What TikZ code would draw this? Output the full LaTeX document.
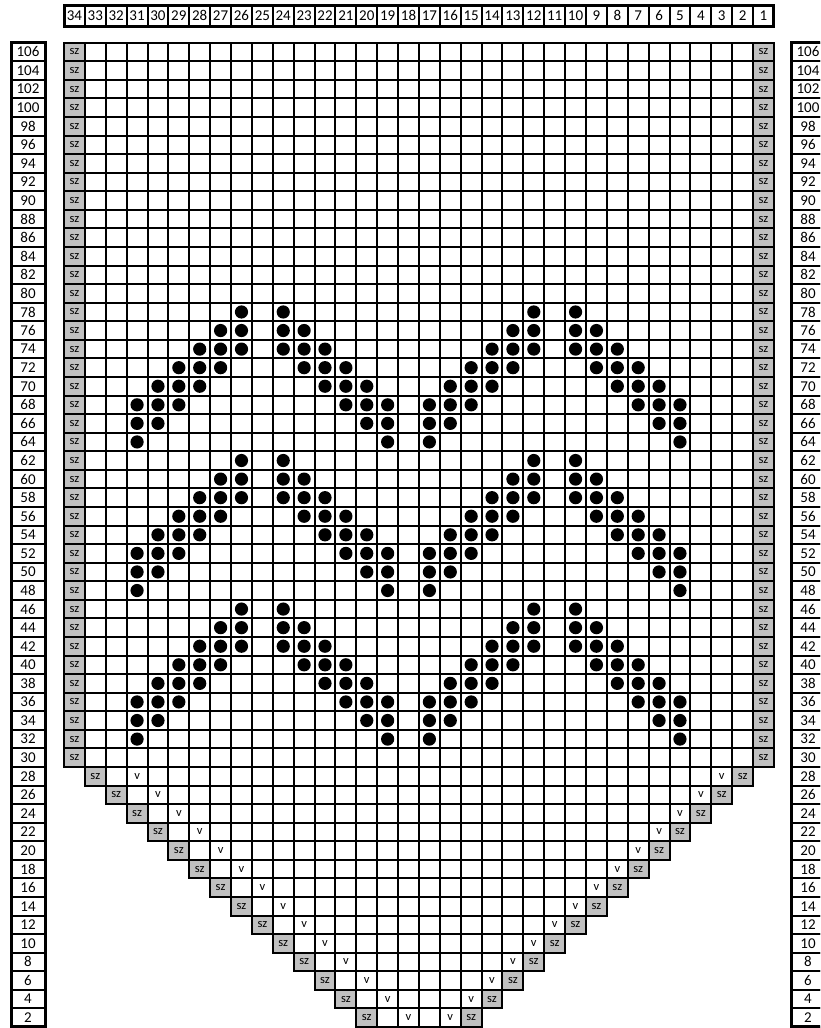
\documentclass[tikz,border=0pt]{standalone}
\usepackage{fontspec}
\setmainfont{Carlito}
\definecolor{szgray}{RGB}{192,192,192}
\begin{document}
\begin{tikzpicture}[x=1pt,y=-1pt,
  cellbox/.style={draw=black,line width=2pt},
  szbox/.style={draw=black,line width=2pt,fill=szgray},
  outerbox/.style={draw=black,line width=3pt},
  numtxt/.style={font=\fontsize{15}{16}\selectfont,inner sep=0pt},
  smalltxt/.style={font=\fontsize{12.5}{13}\selectfont,inner sep=0pt},
  dot/.style={fill=black}]
\useasboundingbox (0,0) rectangle (820,1028);
\clip (0,0) rectangle (820,1028);
\def\gx{64}\def\gy{42.7}\def\cw{20.88}\def\rh{18.57}
% ---- header ----
\foreach \c in {1,...,34}{
  \draw[cellbox] ({\gx+(34-\c)*\cw},5) rectangle ++(\cw,21);
  \node[numtxt] (h\c) at ({\gx+(34-\c+0.5)*\cw},15.5) {\c};
}
\draw[outerbox] (\gx,5) rectangle ({\gx+34*\cw},26);
% ---- row labels ----
\foreach \i in {0,...,52}{
  \pgfmathtruncatemacro\rn{106-2*\i}
  \draw[cellbox] (11,{\gy+\i*\rh}) rectangle (45,{\gy+(\i+1)*\rh});
  \draw[cellbox] (791,{\gy+\i*\rh}) rectangle (825,{\gy+(\i+1)*\rh});
  \node[numtxt] (ll\i) at (28,{\gy+(\i+0.5)*\rh}) {\rn};
  \node[numtxt] (rl\i) at (808,{\gy+(\i+0.5)*\rh}) {\rn};
}
\draw[outerbox] (11,\gy) rectangle (45,{\gy+53*\rh});
\draw[outerbox] (791,\gy) rectangle (825,{\gy+53*\rh});
% ---- full rows 106..30 ----
\foreach \i in {0,...,38}{
  \foreach \c in {2,...,33}{
    \draw[cellbox] ({\gx+(34-\c)*\cw},{\gy+\i*\rh}) rectangle ++(\cw,\rh);
  }
  \draw[szbox] (\gx,{\gy+\i*\rh}) rectangle ++(\cw,\rh);
  \draw[szbox] ({\gx+33*\cw},{\gy+\i*\rh}) rectangle ++(\cw,\rh);
  \node[smalltxt] (szl\i) at ({\gx+0.5*\cw},{\gy+(\i+0.5)*\rh}) {sz};
  \node[smalltxt] (szr\i) at ({\gx+33.5*\cw},{\gy+(\i+0.5)*\rh}) {sz};
}
% ---- decreasing rows 28..2 ----
\foreach \k in {0,...,13}{
  \pgfmathtruncatemacro\lo{3+\k}
  \pgfmathtruncatemacro\hi{32-\k}
  \pgfmathtruncatemacro\ii{39+\k}
  \foreach \c in {\lo,...,\hi}{
    \draw[cellbox] ({\gx+(34-\c)*\cw},{\gy+\ii*\rh}) rectangle ++(\cw,\rh);
  }
  % sz cells at col 33-k and 2+k
  \draw[szbox] ({\gx+(1+\k)*\cw},{\gy+\ii*\rh}) rectangle ++(\cw,\rh);
  \draw[szbox] ({\gx+(32-\k)*\cw},{\gy+\ii*\rh}) rectangle ++(\cw,\rh);
  \node[smalltxt] (tszl\k) at ({\gx+(1.5+\k)*\cw},{\gy+(\ii+0.5)*\rh}) {sz};
  \node[smalltxt] (tszr\k) at ({\gx+(32.5-\k)*\cw},{\gy+(\ii+0.5)*\rh}) {sz};
  % v cells at col 31-k and 3+k
  \node[smalltxt] (vl\k) at ({\gx+(3.5+\k)*\cw},{\gy+(\ii+0.5)*\rh}) {v};
  \node[smalltxt] (vr\k) at ({\gx+(31.5-\k)*\cw},{\gy+(\ii+0.5)*\rh}) {v};
}
% ---- dots ----
\foreach \b in {14,22,30}{
  \foreach \j/\cols in {0/{26,24,12,10},
                        1/{27,26,24,23,13,12,10,9},
                        2/{28,27,26,24,23,22,14,13,12,10,9,8},
                        3/{29,28,27,23,22,21,15,14,13,9,8,7},
                        4/{30,29,28,22,21,20,16,15,14,8,7,6},
                        5/{31,30,29,21,20,19,17,16,15,7,6,5},
                        6/{31,30,20,19,17,16,6,5},
                        7/{31,19,17,5}}{
    \foreach \c in \cols{
      \fill[dot] ({\gx+(34-\c+0.5)*\cw},{\gy+(\b+\j+0.5)*\rh}) circle (6.6);
    }
  }
}
\end{tikzpicture}
\end{document}
